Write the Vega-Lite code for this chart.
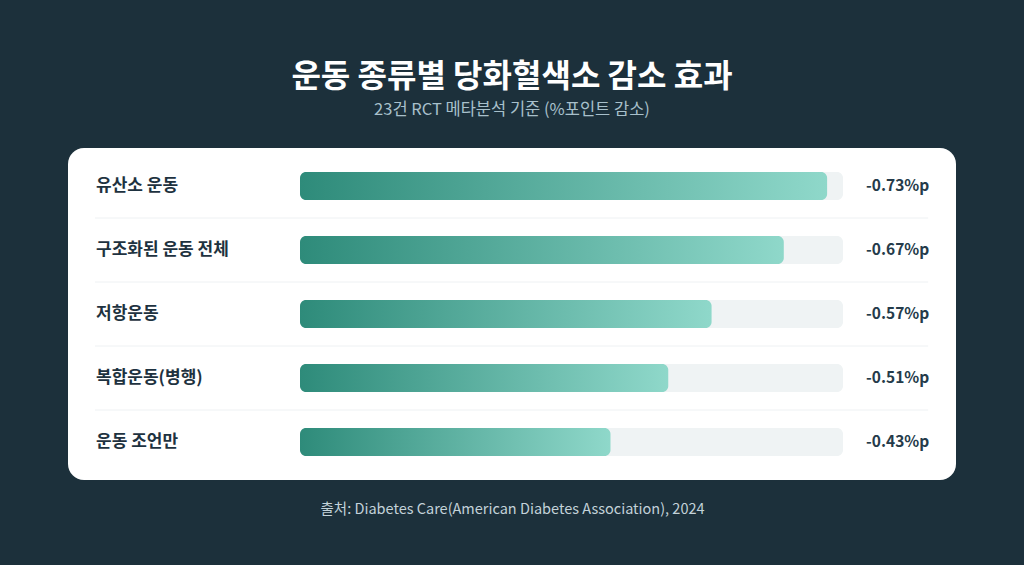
{
  "$schema": "https://vega.github.io/schema/vega-lite/v6.json",
  "width": 888,
  "height": 332,
  "autosize": {"type": "none"},
  "padding": {"left": 68, "top": 148, "right": 68, "bottom": 85},
  "background": "#1c303b",
  "title": {
    "text": "운동 종류별 당화혈색소 감소 효과",
    "subtitle": "23건 RCT 메타분석 기준 (%포인트 감소)",
    "anchor": "middle",
    "frame": "group",
    "font": "Noto Sans CJK KR",
    "fontSize": 32,
    "fontWeight": "bold",
    "color": "#ffffff",
    "subtitleFont": "Noto Sans CJK KR",
    "subtitleFontSize": 16.5,
    "subtitleColor": "#a8c0cb",
    "subtitlePadding": 8,
    "offset": 29
  },
  "data": {
    "values": [
      {"type": "유산소 운동", "reduction": 0.73, "label": "-0.73%p"},
      {"type": "구조화된 운동 전체", "reduction": 0.67, "label": "-0.67%p"},
      {"type": "저항운동", "reduction": 0.57, "label": "-0.57%p"},
      {"type": "복합운동(병행)", "reduction": 0.51, "label": "-0.51%p"},
      {"type": "운동 조언만", "reduction": 0.43, "label": "-0.43%p"}
    ]
  },
  "encoding": {
    "y": {
      "field": "type",
      "type": "nominal",
      "sort": null,
      "scale": {"range": [6, 326], "paddingInner": 0, "paddingOuter": 0},
      "axis": null
    }
  },
  "layer": [
    {
      "mark": {"type": "bar", "height": 28, "cornerRadius": 6, "color": "#eff3f4"},
      "encoding": {
        "x": {
          "datum": 0,
          "type": "quantitative",
          "scale": {"domain": [0, 0.752], "range": [232, 775], "zero": false, "nice": false},
          "axis": {
            "title": "출처: Diabetes Care(American Diabetes Association), 2024",
            "domain": false,
            "ticks": false,
            "labels": false,
            "grid": false,
            "titleFont": "Noto Sans CJK KR",
            "titleFontSize": 14.5,
            "titleFontWeight": "normal",
            "titleColor": "#c3d2d9",
            "titleX": 444,
            "titleY": 29,
            "titleAlign": "center",
            "titleBaseline": "middle"
          }
        },
        "x2": {"datum": 0.752}
      }
    },
    {
      "mark": {
        "type": "bar",
        "height": 28,
        "cornerRadius": 6,
        "fill": {
          "gradient": "linear",
          "x1": 0, "x2": 1, "y1": 0, "y2": 0,
          "stops": [
            {"offset": 0, "color": "#2e8b7a"},
            {"offset": 1, "color": "#8fd8ca"}
          ]
        }
      },
      "encoding": {
        "x": {"field": "reduction", "type": "quantitative"},
        "x2": {"datum": 0}
      }
    },
    {
      "transform": [{"filter": "datum.type !== '운동 조언만'"}],
      "mark": {"type": "rule", "color": "#eef1f3", "strokeWidth": 1},
      "encoding": {
        "y": {"field": "type", "type": "nominal", "sort": null, "bandPosition": 1},
        "x": {"datum": -0.284, "type": "quantitative"},
        "x2": {"datum": 0.87}
      }
    },
    {
      "mark": {
        "type": "text",
        "align": "left",
        "baseline": "middle",
        "font": "Noto Sans CJK KR",
        "fontSize": 17,
        "fontWeight": "bold",
        "color": "#1e3240"
      },
      "encoding": {
        "x": {"datum": -0.2825, "type": "quantitative"},
        "text": {"field": "type"}
      }
    },
    {
      "mark": {
        "type": "text",
        "align": "left",
        "baseline": "middle",
        "font": "Noto Sans CJK KR",
        "fontSize": 15.5,
        "fontWeight": "bold",
        "color": "#253b4a"
      },
      "encoding": {
        "x": {"datum": 0.784, "type": "quantitative"},
        "text": {"field": "label"}
      }
    }
  ],
  "config": {
    "view": {"fill": "#ffffff", "stroke": null, "cornerRadius": 16}
  }
}
